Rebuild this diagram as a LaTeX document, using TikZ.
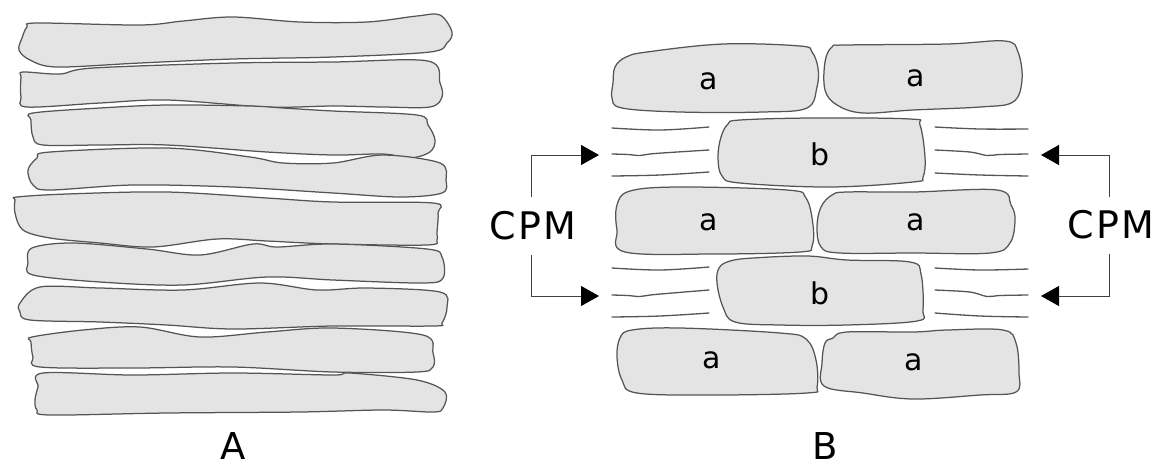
\documentclass[tikz,border=0pt]{standalone}
\usepackage{fontspec}
\setmainfont{DejaVu Sans}
\usetikzlibrary{arrows.meta}
\definecolor{cellfill}{HTML}{E4E4E4}
\definecolor{cellline}{HTML}{555555}
\begin{document}
\begin{tikzpicture}[x=1pt,y=-1pt,
  cell/.style={fill=cellfill,draw=cellline,line width=1.25pt,line join=round},
  wall/.style={draw=cellline,line width=1.3pt,line cap=round},
  stem/.style={draw=black!75,line width=1pt,-{Triangle[length=18pt,width=20pt,color=black]}},
  lab/.style={font=\fontsize{30}{32}\selectfont,inner sep=0pt},
  big/.style={font=\fontsize{38}{40}\selectfont\addfontfeature{LetterSpace=6},inner sep=0pt},
  panel/.style={font=\fontsize{37}{39}\selectfont,inner sep=0pt}]
\useasboundingbox (0,0) rectangle (1167,467);
% ---------------- Panel A ----------------
\draw[cell] plot[smooth cycle,tension=0.55] coordinates {(27,27) (37,23) (140,25) (183,21) (233,17) (300,22) (367,22) (417,16) (440,15) (452,32) (447,43) (430,52) (333,57) (233,59) (140,63) (57,67) (30,60) (19,50) (22,38)};
\draw[cell] plot[smooth cycle,tension=0.55] coordinates {(23,72) (60,74) (93,68) (233,63) (333,62) (428,61) (440,83) (442,97) (430,107) (383,107) (333,106) (267,107) (167,100) (100,103) (27,107) (21,97) (21,77)};
\draw[cell] plot[smooth cycle,tension=0.55] coordinates {(33,113) (100,108) (167,105) (250,106) (283,108) (333,111) (417,115) (428,125) (435,140) (430,152) (410,158) (383,154) (333,155) (267,152) (167,145) (100,145) (43,145) (33,137) (31,120)};
\draw[cell] plot[smooth cycle,tension=0.55] coordinates {(50,152) (167,148) (250,157) (283,163) (333,163) (383,155) (440,163) (446,180) (442,193) (400,197) (333,193) (233,187) (133,185) (50,190) (33,185) (28,170) (37,158)};
\draw[cell] plot[smooth cycle,tension=0.55] coordinates {(17,197) (67,194) (167,192) (267,198) (333,202) (433,203) (438,213) (437,233) (437,240) (427,245) (333,244) (267,241) (217,239) (153,247) (100,243) (50,238) (23,230) (15,213) (15,200)};
\draw[cell] plot[smooth cycle,tension=0.55] coordinates {(32,248) (73,243) (147,249) (200,255) (253,244) (277,247) (333,244) (427,249) (442,257) (443,278) (423,283) (333,280) (267,277) (183,285) (100,282) (33,275) (28,263)};
\draw[cell] plot[smooth cycle,tension=0.55] coordinates {(40,287) (100,288) (183,290) (260,283) (317,290) (367,288) (440,292) (447,307) (442,323) (433,326) (333,326) (233,329) (167,325) (100,322) (30,320) (20,312) (20,303)};
\draw[cell] plot[smooth cycle,tension=0.55] coordinates {(32,337) (83,330) (140,327) (200,337) (267,332) (333,328) (423,335) (433,353) (433,367) (417,372) (333,372) (233,367) (133,368) (40,367) (33,357) (31,342)};
\draw[cell] plot[smooth cycle,tension=0.55] coordinates {(43,373) (133,375) (233,373) (333,375) (350,373) (417,380) (445,392) (443,408) (433,412) (383,410) (300,412) (167,413) (50,415) (37,410) (35,400) (38,387)};
\node[panel] (labA) at (233,446) {A};
% ---------------- Panel B ----------------
\draw[cell] plot[smooth cycle,tension=0.6] coordinates {(626,57) (647,52) (723,44) (800,46) (812,52) (818,68) (817,87) (807,108) (763,112) (680,112) (622,108) (612,98) (613,83) (615,67)};
\draw[cell] plot[smooth cycle,tension=0.6] coordinates {(832,47) (847,45) (947,44) (1005,41) (1018,52) (1022,80) (1013,102) (980,107) (913,110) (863,113) (837,105) (825,90) (825,62)};
\draw[cell] plot[smooth cycle,tension=0.6] coordinates {(740,120) (813,118) (910,119) (920,125) (925,157) (923,177) (913,182) (830,187) (740,183) (722,176) (718,157) (721,137) (728,124)};
\draw[cell] plot[smooth cycle,tension=0.6] coordinates {(630,191) (680,187) (787,190) (806,198) (813,225) (812,246) (800,252) (713,254) (625,252) (617,230) (617,205)};
\draw[cell] plot[smooth cycle,tension=0.6] coordinates {(832,195) (847,192) (913,192) (997,190) (1011,205) (1015,220) (1010,243) (990,253) (913,253) (840,253) (821,247) (817,227) (821,207)};
\draw[cell] plot[smooth cycle,tension=0.6] coordinates {(730,261) (753,258) (807,256) (847,260) (910,262) (921,274) (923,310) (917,321) (847,325) (780,325) (735,322) (723,307) (717,283) (719,268)};
\draw[cell] plot[smooth cycle,tension=0.6] coordinates {(632,330) (680,328) (780,333) (806,339) (816,360) (817,387) (807,393) (713,395) (637,393) (622,380) (617,357) (620,338)};
\draw[cell] plot[smooth cycle,tension=0.6] coordinates {(833,338) (847,332) (913,332) (947,330) (1003,330) (1016,343) (1019,373) (1016,392) (980,395) (913,399) (863,393) (824,386) (822,363) (825,343)};
% cell labels
\node[lab] (a1) at (709,81) {a};
\node[lab] (a2) at (916,78) {a};
\node[lab] (b1) at (820,154) {b};
\node[lab] (a3) at (709,222) {a};
\node[lab] (a4) at (916,222) {a};
\node[lab] (b2) at (820,293) {b};
\node[lab] (a5) at (712,360) {a};
\node[lab] (a6) at (914,362) {a};
% wall lines
\draw[wall] plot[smooth,tension=0.6] coordinates {(612,128) (660,130) (709,127)};
\draw[wall] plot[smooth,tension=0.5] coordinates {(612,154) (628,154.5) (640,155.5) (655,153.5) (709,150)};
\draw[wall] plot[smooth,tension=0.6] coordinates {(612,176) (660,175) (709,172)};
\draw[wall] plot[smooth,tension=0.6] coordinates {(935,127) (980,129) (1028,129)};
\draw[wall] plot[smooth,tension=0.5] coordinates {(935,150) (970,152) (987,155.5) (1000,154.5) (1028,154)};
\draw[wall] plot[smooth,tension=0.6] coordinates {(935,173) (980,175) (1028,176)};
\draw[wall] plot[smooth,tension=0.6] coordinates {(612,268) (660,270) (709,267)};
\draw[wall] plot[smooth,tension=0.5] coordinates {(612,295) (628,295.5) (640,296.5) (655,294.5) (709,290)};
\draw[wall] plot[smooth,tension=0.6] coordinates {(612,317) (660,316) (709,313)};
\draw[wall] plot[smooth,tension=0.6] coordinates {(935,268) (980,270) (1028,269)};
\draw[wall] plot[smooth,tension=0.5] coordinates {(935,290) (970,292) (987,296.5) (1000,295.5) (1028,295)};
\draw[wall] plot[smooth,tension=0.6] coordinates {(935,313) (980,316) (1028,317)};
% CPM labels and arrows
\node[big] (cpmL) at (533,225.5) {CPM};
\node[big] (cpmR) at (1111,224.5) {CPM};
\coordinate (tipLU) at (599,155);
\coordinate (tipLD) at (599,296);
\coordinate (tipRU) at (1041,155);
\coordinate (tipRD) at (1041,296);
\draw[stem] ([xshift=-2pt,yshift=14pt]cpmL.north) |- (tipLU);
\draw[stem] ([xshift=-2pt,yshift=-15pt]cpmL.south) |- (tipLD);
\draw[stem] ([xshift=-2pt,yshift=13pt]cpmR.north) |- (tipRU);
\draw[stem] ([xshift=-2pt,yshift=-15pt]cpmR.south) |- (tipRD);
\node[panel] (labB) at (825,446) {B};
\end{tikzpicture}
\end{document}
